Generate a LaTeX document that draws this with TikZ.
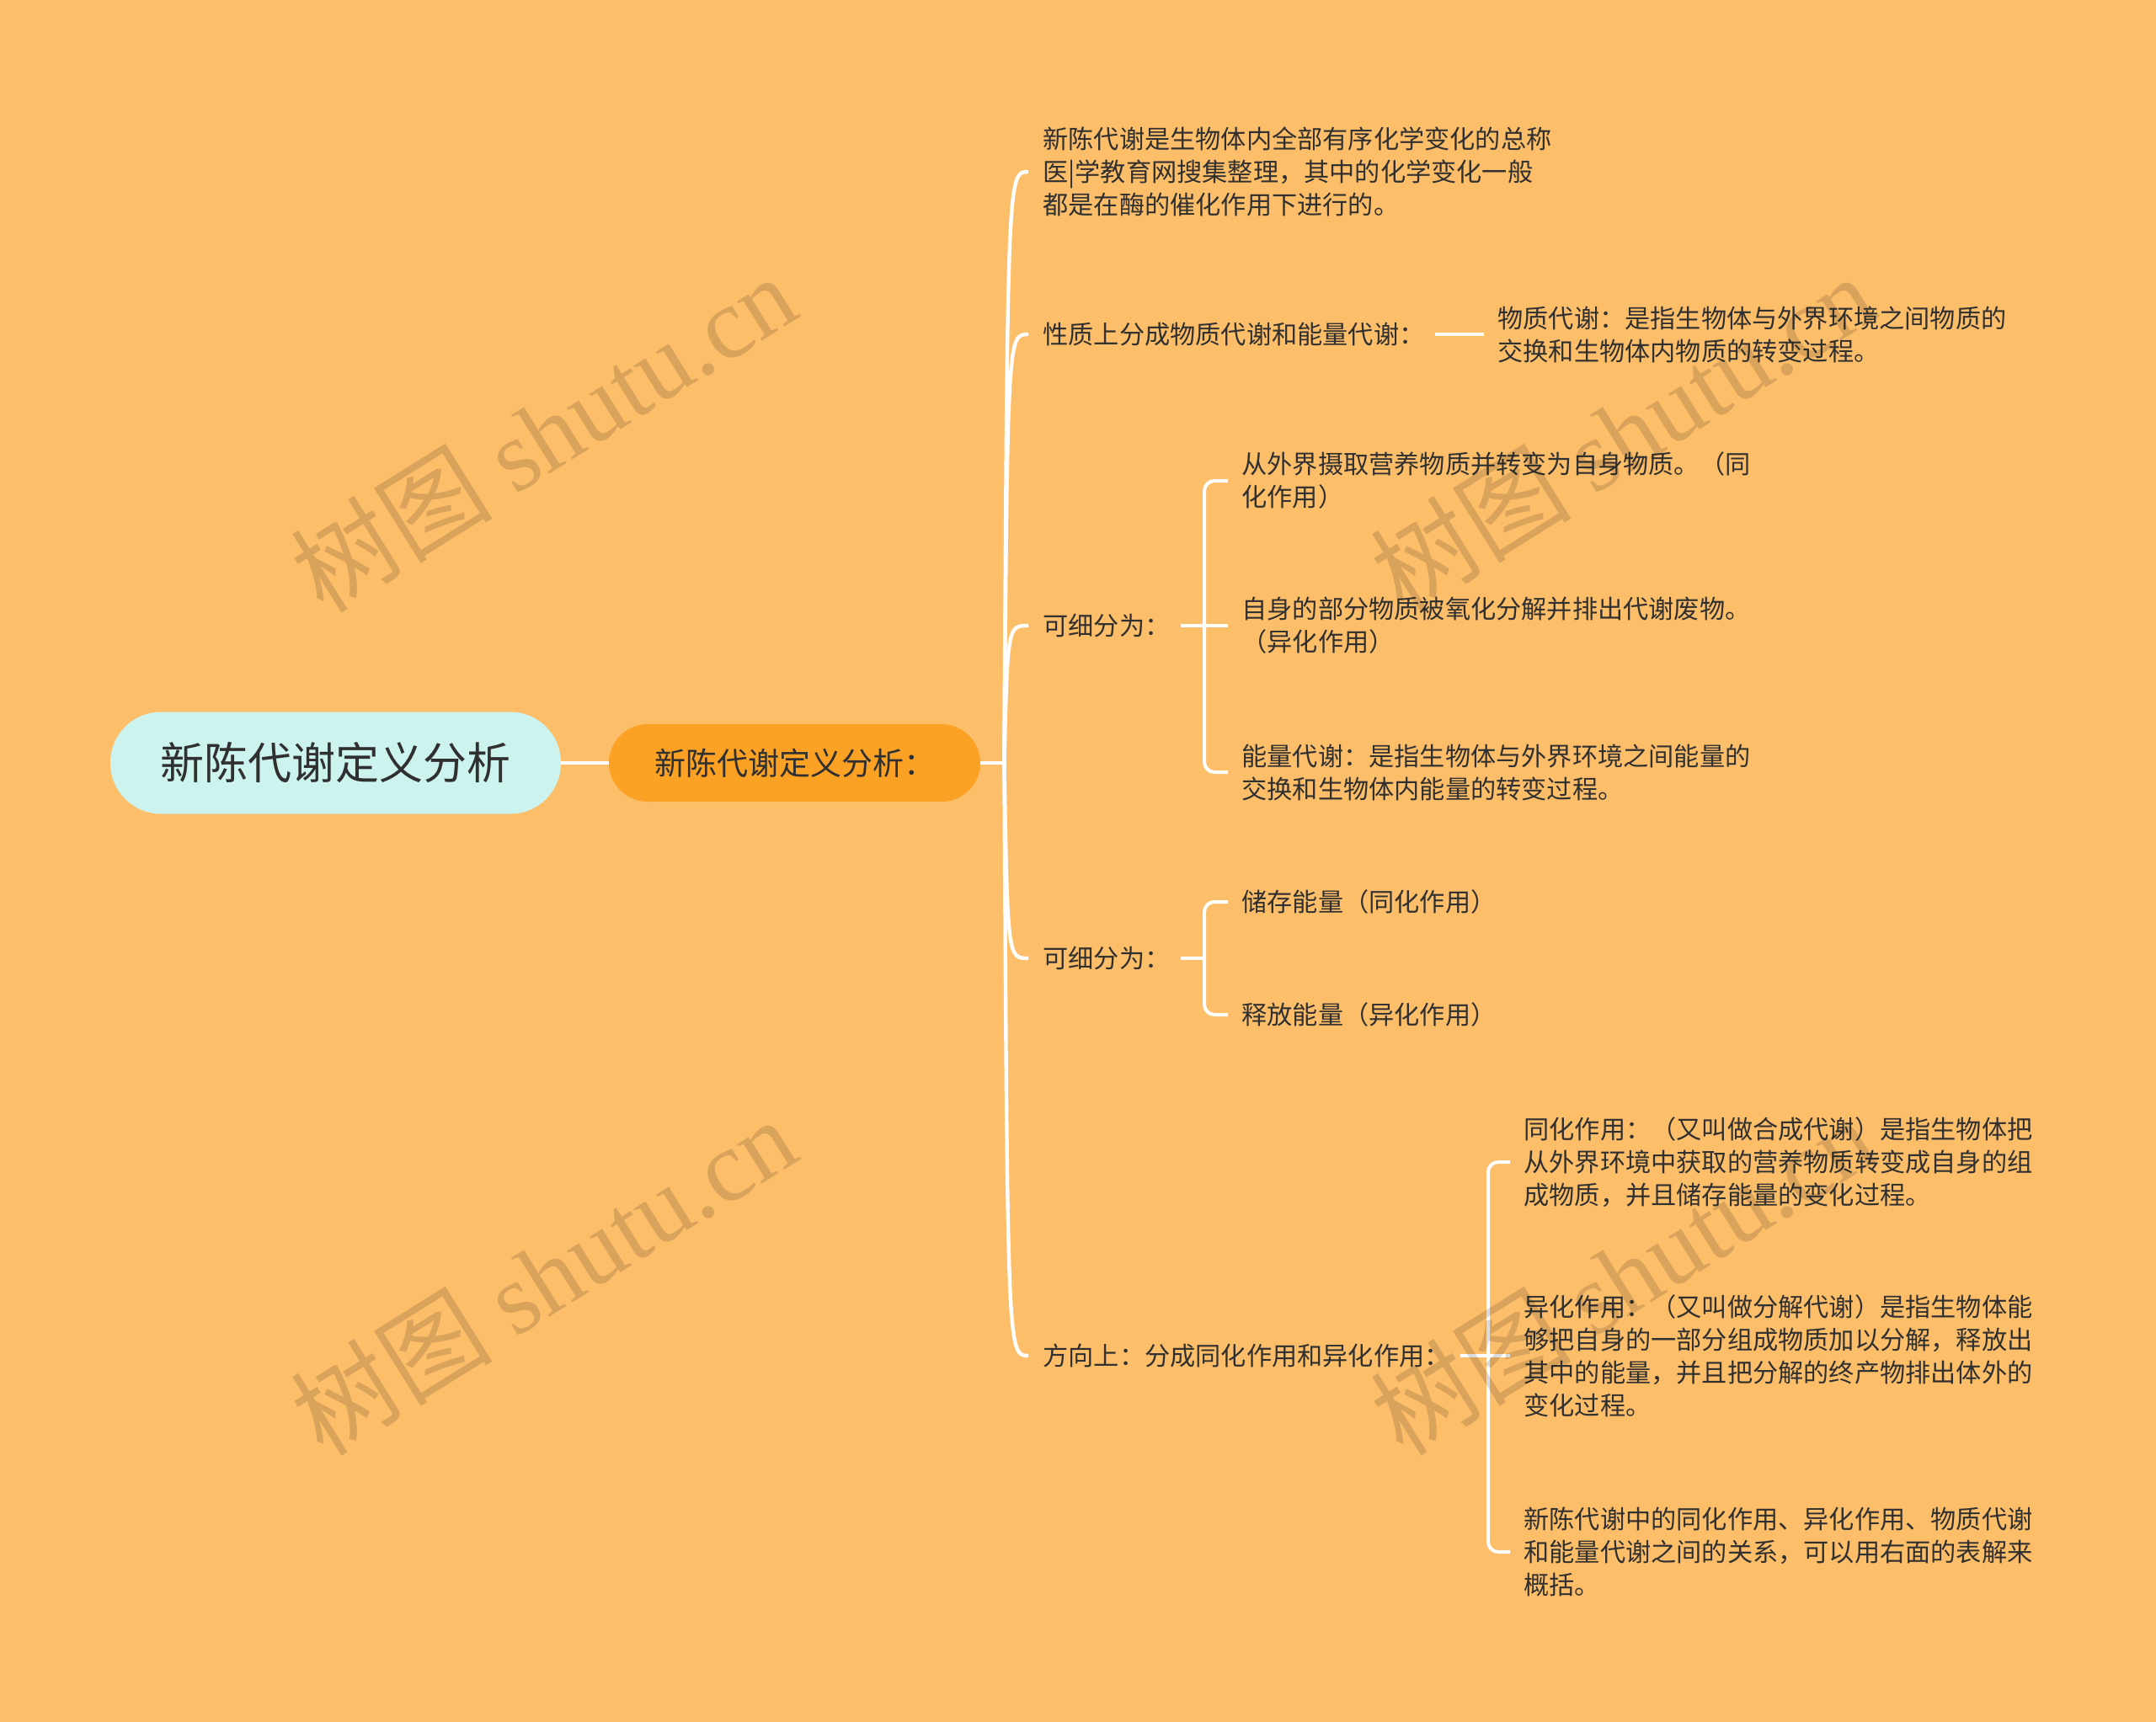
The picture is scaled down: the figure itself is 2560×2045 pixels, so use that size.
\documentclass[tikz,border=0pt]{standalone}
\usepackage{fontspec}
\setmainfont{Noto Sans CJK SC}
\newfontfamily\wmlatin{Liberation Serif}
\usetikzlibrary{calc}
\definecolor{bgc}{RGB}{253,190,106}
\definecolor{rootc}{RGB}{204,243,238}
\definecolor{mainc}{RGB}{251,161,36}
\definecolor{txtc}{RGB}{48,48,48}
\tikzset{
  txt/.style={anchor=west, inner sep=0pt, align=left, text=txtc, font=\fontsize{15.1pt}{19.5pt}\selectfont},
  rootbox/.style={fill=rootc, rounded corners=30pt, minimum width=267.5pt, minimum height=60.5pt, inner sep=0pt, text=txtc, font=\fontsize{26pt}{30pt}\selectfont},
  mainbox/.style={fill=mainc, rounded corners=23pt, minimum width=220.5pt, minimum height=46pt, inner sep=0pt, text=txtc, font=\fontsize{18.5pt}{22pt}\selectfont},
  link/.style={draw=white, line width=2.2pt},
  br/.style={draw=white, line width=2pt, rounded corners=6pt},
  wm/.style={text=black, opacity=0.14, rotate=32, inner sep=0pt, font=\fontsize{60pt}{64pt}\selectfont}
}
\begin{document}
\begin{tikzpicture}[x=0.5pt, y=-0.5pt]
\fill[bgc] (0,0) rectangle (2560,2045);
\useasboundingbox (0,0) rectangle (2560,2045);

% main nodes
\node[rootbox] (root) at (398.5,906) {新陈代谢定义分析};
\node[mainbox] (main) at (943.5,906) {新陈代谢定义分析：};

% level 1
\node[txt] (c1) at (1238,204) {新陈代谢是生物体内全部有序化学变化的总称\\医|学教育网搜集整理，其中的化学变化一般\\都是在酶的催化作用下进行的。};
\node[txt] (c2) at (1238,397) {性质上分成物质代谢和能量代谢：};
\node[txt] (c3) at (1238,743) {可细分为：};
\node[txt] (c4) at (1238,1138) {可细分为：};
\node[txt] (c5) at (1238,1610) {方向上：分成同化作用和异化作用：};

% level 2
\node[txt] (d2) at (1778,397) {物质代谢：是指生物体与外界环境之间物质的\\交换和生物体内物质的转变过程。};
\node[txt] (d3a) at (1474,571) {从外界摄取营养物质并转变为自身物质。（同\\化作用）};
\node[txt] (d3b) at (1474,743) {自身的部分物质被氧化分解并排出代谢废物。\\（异化作用）};
\node[txt] (d3c) at (1474,917) {能量代谢：是指生物体与外界环境之间能量的\\交换和生物体内能量的转变过程。};
\node[txt] (d4a) at (1474,1071) {储存能量（同化作用）};
\node[txt] (d4b) at (1474,1205) {释放能量（异化作用）};
\node[txt] (e5a) at (1809,1380) {同化作用：（又叫做合成代谢）是指生物体把\\从外界环境中获取的营养物质转变成自身的组\\成物质，并且储存能量的变化过程。};
\node[txt] (e5b) at (1809,1610) {异化作用：（又叫做分解代谢）是指生物体能\\够把自身的一部分组成物质加以分解，释放出\\其中的能量，并且把分解的终产物排出体外的\\变化过程。};
\node[txt] (e5c) at (1809,1843) {新陈代谢中的同化作用、异化作用、物质代谢\\和能量代谢之间的关系，可以用右面的表解来\\概括。};

% connectors root -> main
\draw[link] (root.east) -- (main.west);
\coordinate (tj) at ([xshift=14pt]main.east);
\draw[link] (main.east) -- (tj);
\foreach \n in {c1,c2,c3,c4,c5}
  \draw[link] (tj) .. controls ($(tj|-\n.west)+(4,0)$) .. ([xshift=-8.5pt]\n.west);

% item 2
\draw[br] ([xshift=6pt]c2.east) -- ([xshift=-8pt]d2.west);

% item 3 bracket
\coordinate (v3) at ([xshift=-22pt]d3a.west);
\draw[br] ([xshift=-8pt]d3a.west) -| (v3 |- d3c.west) -- ([xshift=-8pt]d3c.west);
\draw[br] ([xshift=6pt]c3.east) -- ([xshift=-8pt]d3b.west);

% item 4 bracket
\coordinate (v4) at ([xshift=-22pt]d4a.west);
\draw[br] ([xshift=-8pt]d4a.west) -| (v4 |- d4b.west) -- ([xshift=-8pt]d4b.west);
\draw[br] ([xshift=6pt]c4.east) -- (c4.east -| v4);

% item 5 bracket
\coordinate (v5) at ([xshift=-21pt]e5a.west);
\draw[br] ([xshift=-8pt]e5a.west) -| (v5 |- e5c.west) -- ([xshift=-8pt]e5c.west);
\draw[br] ([xshift=6pt]c5.east) -- ([xshift=-8pt]e5b.west);

% watermarks
\node[wm] (w1) at (645,514) {树图 {\wmlatin shutu.cn}};
\node[wm] (w2) at (645,1515) {树图 {\wmlatin shutu.cn}};
\node[wm] (w3) at (1926,514) {树图 {\wmlatin shutu.cn}};
\node[wm] (w4) at (1926,1515) {树图 {\wmlatin shutu.cn}};
\end{tikzpicture}
\end{document}
